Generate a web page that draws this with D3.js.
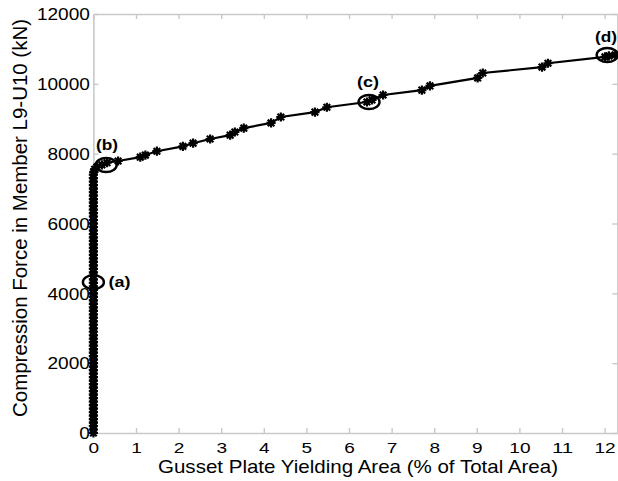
<!DOCTYPE html>
<html>
<head>
<meta charset="utf-8">
<script src="https://cdn.jsdelivr.net/npm/d3@7/dist/d3.min.js"></script>
<style>
  html, body { margin: 0; padding: 0; background: #fff; }
  svg { display: block; }
  text { font-family: "Liberation Sans", Arial, sans-serif; }
</style>
</head>
<body>
<svg id="chart" width="618" height="481"></svg>
<script>
// ---- data ----
// elastic stage: force rises with 0 % yielded area
const stackForce = [0,100,200,300,400,500,600,700,800,900,1000,1100,1200,1300,1400,1500,1600,1700,1800,1900,
  2000,2100,2200,2300,2400,2500,2600,2700,2800,2900,3000,3100,3200,3300,3400,3500,3600,3700,3800,3900,
  4000,4100,4200,4300,4400,4500,4600,4700,4800,4900,5000,5100,5200,5300,5400,5500,5600,5700,5800,5900,
  6000,6100,6200,6300,6400,6500,6600,6700,6800,6900,7000,7100,7200,7300,7400];
// yielding stage
const yieldArea  = [0.01, 0.03, 0.08, 0.20, 0.32, 0.58, 1.10, 1.22, 1.49, 2.10, 2.34, 2.74, 3.21, 3.32, 3.53,
  4.17, 4.40, 5.20, 5.48, 6.42, 6.54, 6.80, 7.71, 7.90, 9.02, 9.14, 10.53, 10.67, 12.01, 12.10, 12.25];
const yieldForce = [7480, 7550, 7620, 7680, 7740, 7790, 7900, 7960, 8070, 8210, 8300, 8420, 8530, 8620, 8730,
  8880, 9050, 9190, 9330, 9480, 9540, 9680, 9820, 9940, 10170, 10310, 10480, 10590, 10770, 10800, 10830];
// annotated states
const noteLabels = ["(a)", "(b)", "(c)", "(d)"];
const noteArea   = [0, 0.30, 6.47, 12.06];
const noteForce  = [4320, 7675, 9480, 10825];

const xTicks = [0,1,2,3,4,5,6,7,8,9,10,11,12];
const yTicks = [0,2000,4000,6000,8000,10000,12000];
const xTitle = "Gusset Plate Yielding Area (% of Total Area)";
const yTitle = "Compression Force in Member L9-U10 (kN)";

// ---- layout ----
const svg = d3.select("#chart");
const L = 93.4, R = 617.4, T = 14, B = 433;
const x = d3.scaleLinear().domain([0, 12.3]).range([L, R]);
const y = d3.scaleLinear().domain([0, 12000]).range([B, T]);
const axisColor = "#c9c9c9";

function styleAxis(g) {
  g.select(".domain").attr("stroke", axisColor).attr("stroke-width", 1.6);
  g.selectAll(".tick line").attr("stroke", axisColor).attr("stroke-width", 1.4);
}

// box axes
svg.append("g").attr("transform", `translate(0,${T})`)
  .call(d3.axisTop(x).tickValues(xTicks).tickSize(-5).tickSizeOuter(0).tickFormat(""))
  .call(styleAxis);
svg.append("g").attr("transform", `translate(${R},0)`)
  .call(d3.axisRight(y).tickValues(yTicks).tickSize(-5).tickSizeOuter(0).tickFormat(""))
  .call(styleAxis);

const gx = svg.append("g").attr("transform", `translate(0,${B})`)
  .call(d3.axisBottom(x).tickValues(xTicks).tickSize(-5).tickSizeOuter(0).tickPadding(0));
styleAxis(gx);
gx.selectAll(".tick text")
  .attr("font-size", 15.5).attr("fill", "#000")
  .attr("y", 19.5).attr("dy", 0)
  .attr("textLength", d => String(d).length * 10.6)
  .attr("lengthAdjust", "spacingAndGlyphs");

const gy = svg.append("g").attr("transform", `translate(${L},0)`)
  .call(d3.axisLeft(y).tickValues(yTicks).tickSize(-5).tickSizeOuter(0).tickPadding(0).tickFormat(d3.format("d")));
styleAxis(gy);
gy.selectAll(".tick text")
  .attr("font-size", 16).attr("fill", "#000")
  .attr("x", -3.5).attr("dy", "0.36em")
  .attr("textLength", d => String(d).length * 10.6)
  .attr("lengthAdjust", "spacingAndGlyphs");

// titles
svg.append("text").attr("x", 358).attr("y", 472.5)
  .attr("text-anchor", "middle").attr("font-size", 18.5)
  .attr("textLength", 400).attr("lengthAdjust", "spacingAndGlyphs")
  .text(xTitle);
svg.append("text").attr("transform", "translate(27,218) rotate(-90)")
  .attr("text-anchor", "middle").attr("font-size", 19.5)
  .attr("textLength", 398).attr("lengthAdjust", "spacingAndGlyphs")
  .text(yTitle);

// ---- data ----
const pts = stackForce.map(f => [0, f]).concat(yieldArea.map((a, i) => [a, yieldForce[i]]));

svg.append("path")
  .attr("d", d3.line().x(d => x(d[0])).y(d => y(d[1]))(pts))
  .attr("fill", "none").attr("stroke", "#000").attr("stroke-width", 2.2);

const s = 4.6, sd = 3.3;
const star = `M${-s},0L${s},0M0,${-s}L0,${s}M${-sd},${-sd}L${sd},${sd}M${-sd},${sd}L${sd},${-sd}`;
svg.append("g").selectAll("path").data(pts).join("path")
  .attr("transform", d => `translate(${x(d[0])},${y(d[1])})`)
  .attr("d", star).attr("fill", "none").attr("stroke", "#000").attr("stroke-width", 2.2);

// annotations
const labelPos = [[119.5, 287, "middle"], [107, 150, "middle"], [368, 87, "middle"], [606, 42, "middle"]];
noteLabels.forEach((lab, i) => {
  svg.append("ellipse")
    .attr("cx", x(noteArea[i])).attr("cy", y(noteForce[i]))
    .attr("rx", 10.5).attr("ry", 7)
    .attr("fill", "none").attr("stroke", "#000").attr("stroke-width", 2.4);
  svg.append("text")
    .attr("x", labelPos[i][0]).attr("y", labelPos[i][1])
    .attr("text-anchor", labelPos[i][2])
    .attr("font-size", 15.5).attr("font-weight", "bold")
    .attr("textLength", 22).attr("lengthAdjust", "spacingAndGlyphs")
    .text(lab);
});
</script>
</body>
</html>
